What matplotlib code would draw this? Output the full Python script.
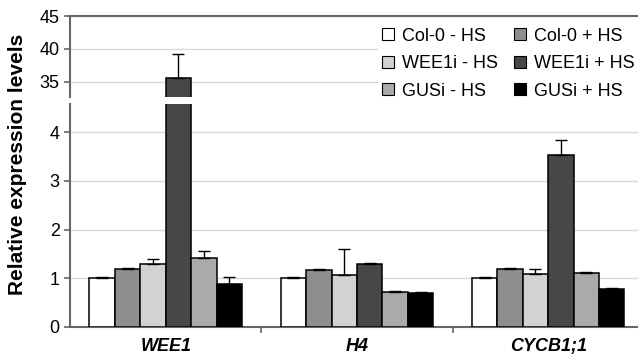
import numpy as np
import matplotlib.pyplot as plt
from matplotlib.patches import Patch

plt.rcParams['font.family'] = ['Liberation Sans', 'DejaVu Sans']

genes = ['WEE1', 'H4', 'CYCB1;1']
series = ['Col-0 - HS', 'Col-0 + HS', 'WEE1i - HS',
          'WEE1i + HS', 'GUSi - HS', 'GUSi + HS']
colors = ['#ffffff', '#8e8e8e', '#d2d2d2', '#474747', '#aaaaaa', '#000000']

# rows: series, columns: genes
values = [
    [1.00, 1.00, 1.00],
    [1.20, 1.18, 1.20],
    [1.29, 1.06, 1.09],
    [35.6, 1.29, 3.53],
    [1.42, 0.72, 1.11],
    [0.89, 0.70, 0.79],
]
errors = [
    [0.02, 0.02, 0.02],
    [0.02, 0.02, 0.02],
    [0.11, 0.54, 0.11],
    [3.7, 0.02, 0.32],
    [0.15, 0.02, 0.02],
    [0.14, 0.02, 0.02],
]

fig = plt.figure(figsize=(6.38, 3.58), dpi=100)
ax_top = fig.add_axes([0.11, 0.729, 0.89, 0.226])
ax_bot = fig.add_axes([0.11, 0.0866, 0.89, 0.623])

x = np.arange(len(genes))
w = 0.133
spine_c = '#666666'

for ax in (ax_top, ax_bot):
    for i, (vals, errs) in enumerate(zip(values, errors)):
        pos = x + (i - 2.5) * w
        ax.bar(pos, vals, width=w, color=colors[i], edgecolor='black',
               linewidth=1.1, zorder=3)
        ax.errorbar(pos, vals, yerr=[np.zeros(len(vals)), errs], fmt='none',
                    ecolor='black', elinewidth=1.0, capsize=4.5, capthick=1.0,
                    zorder=4)
    ax.set_xlim(-0.5, 2.47)
    ax.grid(axis='y', color='#d9d9d9', linewidth=1.0, zorder=0)
    ax.spines['right'].set_visible(False)
    ax.spines['left'].set_color(spine_c)
    ax.spines['left'].set_linewidth(1.5)
    ax.tick_params(axis='y', labelsize=13, color=spine_c, length=4, width=1.2)

ax_top.set_ylim(32.7, 45)
ax_top.set_yticks([35, 40, 45])
ax_top.spines['bottom'].set_visible(False)
ax_top.spines['top'].set_color(spine_c)
ax_top.spines['top'].set_linewidth(1.5)
ax_top.set_xticks([])

ax_bot.set_ylim(0, 4.58)
ax_bot.set_yticks([0, 1, 2, 3, 4])
ax_bot.spines['top'].set_visible(False)
ax_bot.spines['bottom'].set_color(spine_c)
ax_bot.spines['bottom'].set_linewidth(1.5)
ax_bot.set_xticks([0.5, 1.5])
ax_bot.set_xticklabels([])
ax_bot.tick_params(axis='x', which='major', color=spine_c, length=4, width=1.2)
ax_bot.set_xticks(x, minor=True)
ax_bot.set_xticklabels(genes, minor=True, fontsize=13, fontweight='bold',
                       fontstyle='italic')
ax_bot.tick_params(axis='x', which='minor', length=0, pad=8)

fig.text(0.028, 0.54, 'Relative expression levels', rotation=90,
         ha='center', va='center', fontsize=15, fontweight='bold')

order = [0, 2, 4, 1, 3, 5]
handles = [Patch(facecolor=colors[i], edgecolor='black', linewidth=0.8)
           for i in order]
labels = [series[i] for i in order]
leg = fig.legend(handles, labels, ncol=2, loc='upper left',
                 bbox_to_anchor=(0.579, 0.958), fontsize=13, frameon=True,
                 fancybox=False, edgecolor='none', framealpha=1,
                 handlelength=0.65, handleheight=0.65, handletextpad=0.45,
                 labelspacing=0.58, columnspacing=0.9, borderpad=0.2)

fig.savefig('out.png', dpi=100)
